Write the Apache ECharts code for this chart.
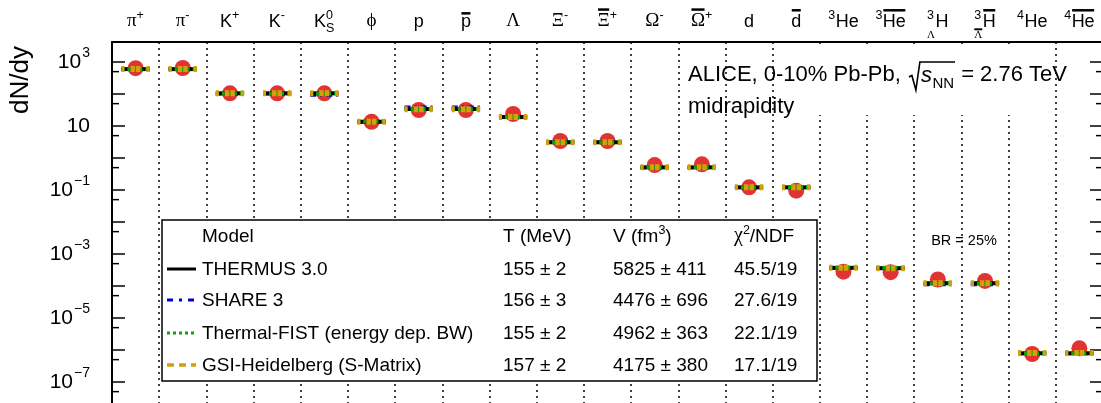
<!DOCTYPE html>
<html><head><meta charset="utf-8">
<script src="https://cdn.jsdelivr.net/npm/echarts@6/dist/echarts.min.js"></script>
<style>html,body{margin:0;padding:0;background:#fff}#c{width:1101px;height:403px}</style>
</head><body><div id="c"></div>
<script>
// ---------------- data ----------------
const categories = ['π+','π-','K+','K-','K0S','ϕ','p','p̄','Λ','Ξ-','Ξ̄+','Ω-','Ω̄+','d','d̄','3He','3He̅','3ΛH','3Λ̄H̄','4He','4He̅'];
const dataYield = [640, 650, 105, 105, 105, 13.6, 31.6, 31.6, 23.7, 3.4, 3.4, 0.60, 0.635, 0.121, 0.095, 2.8e-4, 2.7e-4, 1.6e-4, 1.44e-4, 7.5e-7, 1.13e-6];
const thermus = [600, 600, 105, 105, 105, 13.6, 34, 34, 19, 3.1, 3.1, 0.51, 0.51, 0.121, 0.121, 3.7e-4, 3.6e-4, 1.22e-4, 1.22e-4, 7.9e-7, 7.9e-7];
const share   = [590, 590, 100, 100, 92, 13.2, 39, 39, 19.5, 3.1, 3.1, 0.50, 0.50, 0.119, 0.119, 3.6e-4, 3.6e-4, 1.1e-4, 1.1e-4, 7.6e-7, 7.6e-7];
const fist    = [605, 605, 104, 104, 104, 13.8, 34, 34, 19, 3.1, 3.1, 0.52, 0.52, 0.122, 0.122, 3.7e-4, 3.7e-4, 1.2e-4, 1.2e-4, 7.9e-7, 7.9e-7];
const gsi     = [600, 600, 105, 105, 105, 13.6, 33.5, 33.5, 19, 3.1, 3.1, 0.51, 0.51, 0.121, 0.121, 3.7e-4, 3.6e-4, 1.22e-4, 1.22e-4, 8.0e-7, 8.0e-7];
const yMin = 1e-8, yMax = Math.pow(10, 3.625);
const yLabelExponents = [3, 1, -1, -3, -5, -7];
const minorTickValues = [5e2, 5e1, 5, 0.5, 5e-2, 5e-3, 5e-4, 5e-5, 5e-6, 5e-7, 5e-8];
const modelNames = ['THERMUS 3.0', 'SHARE 3', 'Thermal-FIST (energy dep. BW)', 'GSI-Heidelberg (S-Matrix)'];
const modelT = ['155 ± 2', '156 ± 3', '155 ± 2', '157 ± 2'];
const modelV = ['5825 ± 411', '4476 ± 696', '4962 ± 363', '4175 ± 380'];
const modelChi2 = ['45.5/19', '27.6/19', '22.1/19', '17.1/19'];

// ---------------- styles / layout ----------------
const SANS = 'Liberation Sans', SERIF = 'Liberation Serif';
const labelParts = [
  [{m:'π',g:1},{sup:'+'}],
  [{m:'π',g:1},{sup:'-'}],
  [{m:'K'},{sup:'+'}],
  [{m:'K'},{sup:'-'}],
  [{m:'K'},{sup:'0',sub:'S'}],
  [{m:'ϕ',g:1}],
  [{m:'p'}],
  [{m:'p',bar:1,h:0.55}],
  [{m:'Λ',g:1}],
  [{m:'Ξ',g:1},{sup:'-'}],
  [{m:'Ξ',g:1,bar:1},{sup:'+'}],
  [{m:'Ω',g:1},{sup:'-'}],
  [{m:'Ω',g:1,bar:1},{sup:'+'}],
  [{m:'d'}],
  [{m:'d',bar:1}],
  [{sup:'3'},{m:'He'}],
  [{sup:'3'},{m:'He',bar:1}],
  [{sup:'3',sub:'Λ',sg:1},{m:'H'}],
  [{sup:'3',sub:'Λ',sg:1,subBar:1},{m:'H',bar:1}],
  [{sup:'4'},{m:'He'}],
  [{sup:'4'},{m:'He',bar:1}]
];
const modelStyles = [
  {stroke:'#000000', lineWidth:4, dash:null, legendDash:null, legendWidth:3, z:5},
  {stroke:'#0000d0', lineWidth:3, dash:[6,4,2,4], legendDash:[6,6,3,6], legendWidth:3, z:4},
  {stroke:'#10a010', lineWidth:4, dash:[3,3], legendDash:[3,3], legendWidth:3, z:6},
  {stroke:'#d4a00a', lineWidth:6, dash:[3,6,4.5,1,4.5,6,3,0], legendDash:[7,5], legendWidth:3.5, z:7}
];

const mctx = document.createElement('canvas').getContext('2d');
function tw(t, size, fam, st) { mctx.font = (st || 'normal') + ' ' + size + 'px "' + fam + '"'; return mctx.measureText(t).width; }
function txt(x, B, t, size, fam, opt) {
  opt = opt || {};
  return {type:'text', x: x, y: B - 0.345 * size, z: 20, silent: true,
    style:{text:t, fontSize:size, fontFamily:fam, fontStyle: opt.italic ? 'italic' : 'normal',
      fill:'#000', align: opt.align || 'left', verticalAlign:'middle'}};
}

function renderCatLabel(params, api) {
  const i = api.value(0);
  const cx = api.coord([i, yMax])[0];
  const B = params.coordSys.y - 14;
  const parts = labelParts[i];
  const cols = parts.map(p => {
    if (p.m) { const fam = p.g ? SERIF : SANS, sz = p.g ? 19 : 18; return {p, fam, sz, w: tw(p.m, sz, fam)}; }
    const ws = p.sup ? tw(p.sup, 12.5, SANS) : 0;
    const wb = p.sub ? tw(p.sub, p.sg ? 11 : 12.5, p.sg ? SERIF : SANS) : 0;
    return {p, w: Math.max(ws, wb) + 0.5};
  });
  const total = cols.reduce((a, c) => a + c.w, 0);
  let x = cx - total / 2;
  const ch = [];
  cols.forEach(c => {
    const p = c.p;
    if (p.m) {
      ch.push(txt(x, B, p.m, c.sz, c.fam));
      if (p.bar) ch.push({type:'rect', shape:{x:x + 0.5, y:B - (p.h || 0.72) * c.sz - 6, width:c.w - 1, height:2.5}, style:{fill:'#000'}});
    } else {
      if (p.sup) ch.push(txt(x, B - 8.5, p.sup, 12.5, SANS));
      if (p.sub) {
        const sb = p.sg ? B + 11 : B + 4.5;
        const ssz = p.sg ? 11 : 12.5;
        ch.push(txt(x, sb, p.sub, ssz, p.sg ? SERIF : SANS));
        if (p.subBar) ch.push({type:'rect', shape:{x:x, y:sb - 0.7 * ssz - 3, width:c.w - 0.5, height:2}, style:{fill:'#000'}});
      }
    }
    x += c.w;
  });
  return {type:'group', children: ch};
}

function renderYLabel(params, api) {
  const v = api.value(1);
  const e = Math.round(Math.log10(v));
  const y = api.coord([0, v])[1];
  const right = params.coordSys.x - 22;
  const bs = 21, ss = 14;
  const w10 = tw('10', bs, SANS);
  const sup = e === 1 ? '' : ((e < 0 ? '−' : '') + Math.abs(e));
  const ws = sup ? tw(sup, ss, SANS) + 1 : 0;
  const x0 = right - w10 - ws;
  const ch = [txt(x0, y + 7.5, '10', bs, SANS)];
  if (sup) ch.push(txt(x0 + w10 + 1, y - 4, sup, ss, SANS));
  return {type:'group', children: ch};
}

function modelSeries(values, k) {
  const st = modelStyles[k];
  return {
    type:'custom', name: modelNames[k], z: st.z, silent: true,
    data: values.map((v, i) => [i, v]),
    renderItem(params, api) {
      const p = api.coord([api.value(0), api.value(1)]);
      const w = api.size([1, 1])[0] * 0.6;
      return {type:'line', shape:{x1:p[0] - w / 2, y1:p[1], x2:p[0] + w / 2, y2:p[1]},
        style:{stroke:st.stroke, lineWidth:st.lineWidth, lineDash:st.dash, lineCap:'butt'}};
    }
  };
}

// ---------------- graphic (text / legend) ----------------
const graphics = [];
graphics.push({type:'rect', shape:{x:795, y:47, width:245, height:68}, style:{fill:'#fff'}, z:9, silent:true});
(function () {
  const x0 = 688, B = 83, fs = 22;
  const p1 = 'ALICE, 0-10% Pb-Pb, ';
  graphics.push(txt(x0, B, p1, fs, SANS));
  const x1 = x0 + tw(p1, fs, SANS) + 2;
  const sx = x1 + 12;
  graphics.push(txt(sx, B, 's', fs, SANS, {italic:true}));
  const nx = sx + tw('s', fs, SANS, 'italic') + 0.5;
  graphics.push(txt(nx, B + 6, 'NN', 15, SANS));
  const xe = nx + tw('NN', 15, SANS) + 1;
  graphics.push({type:'polyline', shape:{points:[[x1, 77], [x1 + 3, 75.5], [x1 + 7, 90], [x1 + 11, 62], [xe, 62]]},
    style:{stroke:'#000', lineWidth:1.6, fill:null}, z:20, silent:true});
  graphics.push(txt(xe, B, ' = 2.76 TeV', fs, SANS));
  graphics.push(txt(x0, 115, 'midrapidity', fs, SANS));
  graphics.push(txt(964, 246, 'BR = 25%', 14.5, SANS, {align:'center'}));
  graphics.push({type:'text', x:21, y:80, rotation:Math.PI / 2, z:20, silent:true,
    style:{text:'dN/dy', fontSize:26, fontFamily:SANS, fill:'#000', align:'center', verticalAlign:'middle'}});
  graphics.push({type:'rect', shape:{x:162, y:220, width:655, height:161}, style:{fill:'#fff', stroke:'#000', lineWidth:1.5}, z:9, silent:true});
  const lf = 19, rowB = [243, 276, 307, 340, 372];
  graphics.push(txt(202, rowB[0], 'Model', lf, SANS));
  graphics.push(txt(503, rowB[0], 'T (MeV)', lf, SANS));
  const vw = tw('V (fm', lf, SANS);
  graphics.push(txt(613, rowB[0], 'V (fm', lf, SANS));
  graphics.push(txt(613 + vw, rowB[0] - 8, '3', 12.5, SANS));
  graphics.push(txt(613 + vw + tw('3', 12.5, SANS), rowB[0], ')', lf, SANS));
  graphics.push(txt(734, rowB[0], 'χ', lf + 1, SERIF));
  const cw = tw('χ', lf + 1, SERIF);
  graphics.push(txt(734 + cw, rowB[0] - 8, '2', 12.5, SANS));
  graphics.push(txt(734 + cw + tw('2', 12.5, SANS), rowB[0], '/NDF', lf, SANS));
  for (let k = 0; k < 4; k++) {
    const B = rowB[k + 1], st = modelStyles[k];
    graphics.push({type:'line', shape:{x1:167, y1:B - 7, x2:196, y2:B - 7}, z:20, silent:true,
      style:{stroke:st.stroke, lineWidth:st.legendWidth, lineDash:st.legendDash}});
    graphics.push(txt(202, B, modelNames[k], lf, SANS));
    graphics.push(txt(503, B, modelT[k], lf, SANS));
    graphics.push(txt(613, B, modelV[k], lf, SANS));
    graphics.push(txt(734, B, modelChi2[k], lf, SANS));
  }
})();

// ---------------- chart ----------------
const chart = echarts.init(document.getElementById('c'), null, {renderer:'canvas'});
const yAxisCommon = {
  type:'log', min:yMin, max:yMax, logBase:10, interval:1,
  axisLine:{show:true, lineStyle:{color:'#000', width:2}},
  axisTick:{show:true, inside:true, length:13, lineStyle:{color:'#000', width:1.5}},
  axisLabel:{show:false},
  splitLine:{show:false}, minorTick:{show:false}
};
chart.setOption({
  animation:false,
  backgroundColor:'#fff',
  textStyle:{fontFamily:SANS},
  grid:{left:112, top:42, width:991, height:372, containLabel:false, outerBoundsMode:'none'},
  xAxis:{
    type:'category', position:'top', data:categories, boundaryGap:true,
    axisLine:{show:true, lineStyle:{color:'#000', width:2}},
    axisTick:{show:false}, axisLabel:{show:false},
    splitLine:{show:true, interval:0, lineStyle:{color:'#000', width:1.5, type:[2,4]}}
  },
  yAxis:[
    Object.assign({}, yAxisCommon, {position:'left'}),
    Object.assign({}, yAxisCommon, {position:'right'})
  ],
  series:[
    {type:'scatter', name:'ALICE', data:dataYield.map((v, i) => [i, v]), symbol:'circle', symbolSize:16,
      itemStyle:{color:'#d90000'}, z:3, silent:true},
    modelSeries(thermus, 0), modelSeries(share, 1), modelSeries(fist, 2), modelSeries(gsi, 3),
    {type:'custom', name:'minorTicks', silent:true, z:8, data:minorTickValues.map(v => [0, v]),
      renderItem(params, api) {
        const y = api.coord([0, api.value(1)])[1], cs = params.coordSys;
        return {type:'group', children:[
          {type:'line', shape:{x1:cs.x, y1:y, x2:cs.x + 7, y2:y}, style:{stroke:'#000', lineWidth:1.5}},
          {type:'line', shape:{x1:cs.x + cs.width - 7, y1:y, x2:cs.x + cs.width, y2:y}, style:{stroke:'#000', lineWidth:1.5}}]};
      }},
    {type:'custom', name:'yLabels', silent:true, z:10, clip:false, data:yLabelExponents.map(e => [0, Math.pow(10, e)]),
      renderItem:renderYLabel},
    {type:'custom', name:'labels', silent:true, z:10, clip:false, data:categories.map((c, i) => [i, yMax]),
      renderItem:renderCatLabel}
  ],
  graphic:graphics
});
</script></body></html>
